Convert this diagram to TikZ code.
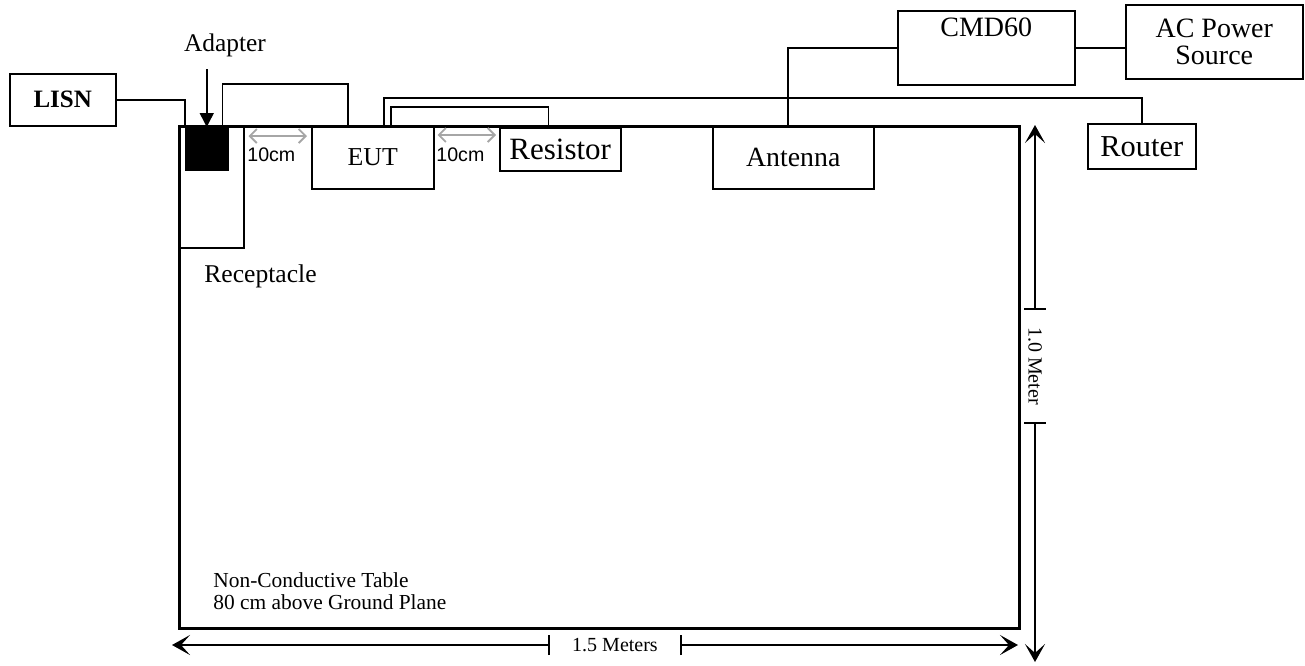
\documentclass[tikz,border=0pt]{standalone}
\usepackage{fontspec}
\setmainfont{Liberation Serif}
\setsansfont{Liberation Sans}
\usepackage{tikz}
\usetikzlibrary{arrows.meta, positioning, calc}
\tikzset{
  box/.style={rectangle, draw, line width=0.75pt, inner sep=0pt, anchor=north west, align=center},
  cable/.style={line width=0.75pt},
  tablebox/.style={rectangle, draw, line width=1.5pt, inner sep=0pt, anchor=north west},
  gaparrow/.style={{Straight Barb[length=3.5pt,width=7pt]}-{Straight Barb[length=3.5pt,width=7pt]}, line width=0.9pt, color=gray!70},
  dimarrow/.style={-{Stealth[length=9pt,width=10pt,inset=4.5pt]}, line width=0.9pt},
  tick/.style={line width=0.9pt},
  adaptarrow/.style={-{Triangle[length=7pt,width=7pt]}, line width=0.75pt},
  gaplabel/.style={font=\sffamily\fontsize{9.8}{10}\selectfont, inner sep=0pt, anchor=north west}
}
\begin{document}
\begin{tikzpicture}[x=0.5pt, y=-0.5pt]
  \useasboundingbox (0,0) rectangle (1305,665);

  % Table and the units on it
  \node[tablebox, minimum width=420pt, minimum height=251pt] (table) at (178,125) {};
  \node[box, minimum width=32.5pt, minimum height=61pt] (receptacle) at (178,125) {};
  \node[box, fill=black, minimum width=21pt, minimum height=21pt] (adapter) at (185,127) {};
  \node[box, minimum width=61pt, minimum height=31.5pt, font=\fontsize{12.9}{14}\selectfont] (eut) at (311,125) {EUT};
  \node[box, minimum width=60.5pt, minimum height=21.5pt, font=\fontsize{15.5}{16}\selectfont] (resistor) at (499,127) {Resistor};
  \node[box, minimum width=80.5pt, minimum height=31.5pt, font=\fontsize{13.9}{14}\selectfont] (antenna) at (712,125) {Antenna};

  % Units off the table
  \node[box, minimum width=53pt, minimum height=26pt, font=\bfseries\fontsize{12.5}{14}\selectfont] (lisn) at (9,73) {LISN};
  \node[box, minimum width=88.5pt, minimum height=37pt, font=\fontsize{14}{16}\selectfont] (cmd) at (897,10) {CMD60\\\strut};
  \node[box, minimum width=88.5pt, minimum height=37pt, font=\fontsize{14}{13.5}\selectfont] (ac) at (1125,4) {AC Power\\Source};
  \node[box, minimum width=54pt, minimum height=22.5pt, font=\fontsize{15.2}{16}\selectfont] (router) at (1087,123) {Router};

  % Labels
  \node[font=\fontsize{12.7}{14}\selectfont] (adapterlbl) at (225,45) {Adapter};
  \node[font=\fontsize{12.8}{14}\selectfont, anchor=west, inner sep=0pt] (receptlbl) at (204,276) {Receptacle};
  \node[font=\fontsize{10.7}{11}\selectfont, anchor=west, align=left, inner sep=0pt] (tablelbl) at (213,591) {Non-Conductive Table\\80 cm above Ground Plane};

  % Cables
  \draw[cable] (lisn.east) -| (adapter.north west);
  \draw[cable] ([xshift=-3pt]adapter.north east) -- ++(0,-43) -| ([xshift=-12.5pt]eut.north);
  \draw[cable] ([xshift=5.5pt]eut.north) -- ++(0,-27) -| (router.north);
  \draw[cable] ([xshift=9pt]eut.north) -- ++(0,-18) -| ([xshift=-6pt]resistor.north);
  \draw[cable] ([xshift=-2.75pt]antenna.north) |- (cmd.west);
  \draw[cable] (cmd.east) -- (cmd.east -| ac.west);
  \draw[adaptarrow] ([yshift=29pt]adapter.north) -- (adapter.north);

  % 10cm spacings
  \draw[gaparrow] ([xshift=2pt, yshift=-5.5pt]receptacle.north east)
    -- ([xshift=-2pt, yshift=-5.5pt]eut.north west);
  \node[gaplabel] (gap1) at (247,147) {10cm};
  \draw[gaparrow] ([xshift=1.5pt, yshift=-5pt]eut.north east)
    -- ([xshift=-1.5pt, yshift=-4pt]resistor.north west);
  \node[gaplabel] (gap2) at (436,147) {10cm};

  % Dimensions
  \coordinate (vtop) at (1035,125);
  \coordinate (vbot) at (1035,662);
  \node[rotate=-90, minimum width=56.5pt, inner sep=0pt, font=\fontsize{10}{10}\selectfont] (vlabel) at (1035,366) {1.0 Meter};
  \draw[dimarrow] (vlabel.west) -- (vtop);
  \draw[dimarrow] (vlabel.east) -- (vbot);
  \draw[tick] ([xshift=-5.5pt]vlabel.west) -- ([xshift=5.5pt]vlabel.west);
  \draw[tick] ([xshift=-5.5pt]vlabel.east) -- ([xshift=5.5pt]vlabel.east);

  \coordinate (hleft) at (172,645);
  \coordinate (hright) at (1018,645);
  \node[minimum width=65.5pt, inner sep=0pt, font=\fontsize{10}{10}\selectfont] (hlabel) at (615,645) {1.5 Meters};
  \draw[dimarrow] (hlabel.west) -- (hleft);
  \draw[dimarrow] (hlabel.east) -- (hright);
  \draw[tick] ([yshift=-5pt]hlabel.west) -- ([yshift=5pt]hlabel.west);
  \draw[tick] ([yshift=-5pt]hlabel.east) -- ([yshift=5pt]hlabel.east);
\end{tikzpicture}
\end{document}
